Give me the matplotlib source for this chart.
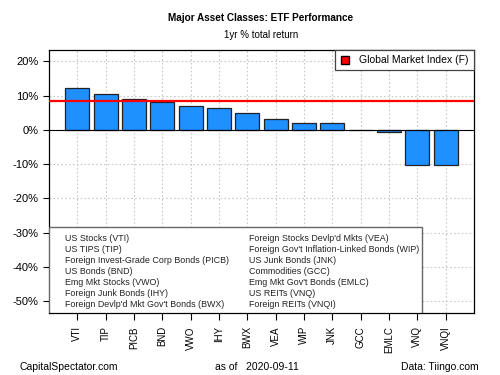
import matplotlib
matplotlib.use('Agg')
import matplotlib.pyplot as plt
from matplotlib.patches import Patch, Rectangle

plt.rcParams['font.family'] = ['Liberation Sans', 'DejaVu Sans']

tickers = ['VTI', 'TIP', 'PICB', 'BND', 'VWO', 'IHY', 'BWX', 'VEA', 'WIP', 'JNK',
           'GCC', 'EMLC', 'VNQ', 'VNQI']
returns = [12.3, 10.4, 8.9, 8.2, 7.0, 6.3, 5.0, 3.2, 2.1, 1.9, 0.0, -0.7, -10.3, -10.3]
names = ['US Stocks (VTI)', 'US TIPS (TIP)', 'Foreign Invest-Grade Corp Bonds (PICB)',
         'US Bonds (BND)', 'Emg Mkt Stocks (VWO)', 'Foreign Junk Bonds (IHY)',
         "Foreign Devlp'd Mkt Gov't Bonds (BWX)", "Foreign Stocks Devlp'd Mkts (VEA)",
         "Foreign Gov't Inflation-Linked Bonds (WIP)", 'US Junk Bonds (JNK)',
         'Commodities (GCC)', "Emg Mkt Gov't Bonds (EMLC)", 'US REITs (VNQ)',
         'Foreign REITs (VNQI)']
gmi = 8.55
yticks = [20, 10, 0, -10, -20, -30, -40, -50]

fig = plt.figure(figsize=(5, 3.75), dpi=100)
ax = fig.add_axes([0.098, 0.1653, 0.85, 0.7013])

x = list(range(len(tickers)))
ax.grid(True, color='#c8c8c8', linestyle=(0, (1.5, 2)), linewidth=0.8)
ax.set_axisbelow(True)
ax.bar(x, returns, width=0.84, color='#1E90FF', edgecolor='#222222', linewidth=0.9, zorder=2)
ax.axhline(0, color='black', linewidth=0.8, zorder=3)
ax.axhline(gmi, color='red', linewidth=1.6, zorder=4)

ax.set_xlim(-1, len(tickers))
ax.set_ylim(-53.4, 23.3)
ax.set_yticks(yticks)
ax.set_yticklabels([f'{v}%' for v in yticks], fontsize=8)
ax.set_xticks(x)
ax.set_xticklabels(tickers, rotation=90, fontsize=7)
ax.tick_params(axis='x', length=5, pad=4.5)
ax.tick_params(axis='y', length=4)
for s in ax.spines.values():
    s.set_linewidth(0.9)

leg = ax.legend(handles=[Patch(facecolor='red', edgecolor='black', label='Global Market Index (F)')],
                loc='upper right', fontsize=7.5, fancybox=False, framealpha=1,
                edgecolor='#444444', borderaxespad=0, borderpad=0.5,
                handlelength=0.8, handleheight=0.8, handletextpad=1.0)
leg.get_frame().set_linewidth(0.9)

# box with the fund names, two columns
box_w, box_h = 0.878, 0.328
ax.add_patch(Rectangle((0, 0), box_w, box_h, transform=ax.transAxes, facecolor='white',
                       edgecolor='#666666', linewidth=1.0, zorder=5))
half = (len(names) + 1) // 2
for i, n in enumerate(names):
    col, row = divmod(i, half)
    ty = (313 - (238.3 + row * 10.95)) / 263
    tx = 0.0376 if col == 0 else 0.471
    ax.text(tx, ty, n, transform=ax.transAxes, fontsize=6.4, va='center', ha='left',
            color='#222222', zorder=6)

fig.text(0.522, 0.945, 'Major Asset Classes: ETF Performance', ha='center', fontsize=7.2,
         fontweight='bold')
fig.text(0.522, 0.898, '1yr % total return', ha='center', fontsize=7)
fig.text(0.04, 0.012, 'CapitalSpectator.com', ha='left', fontsize=7.5)
fig.text(0.513, 0.012, 'as of   2020-09-11', ha='center', fontsize=7.5)
fig.text(0.957, 0.012, 'Data: Tiingo.com', ha='right', fontsize=7.5)

fig.savefig('out.png', dpi=100)
